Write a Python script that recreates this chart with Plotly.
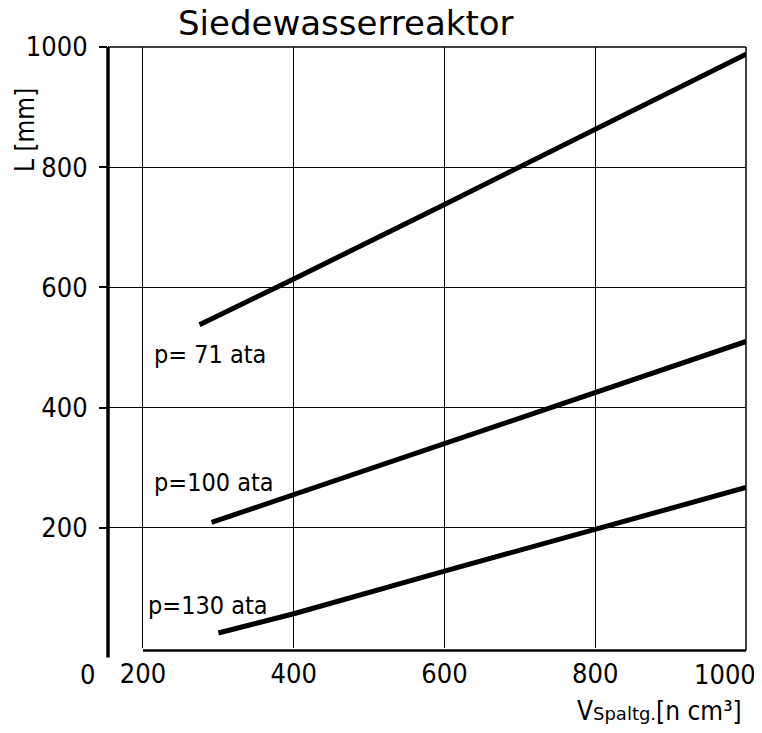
import plotly.graph_objects as go

# ---- data ----
x_p71 = [275, 400, 600, 700, 800, 1000]
y_p71 = [538, 614, 738, 800, 862, 988]

x_p100 = [291, 400, 600, 800, 1000]
y_p100 = [209, 255, 340, 425, 510]

x_p130 = [300, 400, 600, 800, 1000]
y_p130 = [25, 57, 128, 198, 267]

series_names = ["p= 71 ata", "p=100 ata", "p=130 ata"]
x_ticks = [200, 400, 600, 800, 1000]
y_ticks = [200, 400, 600, 800, 1000]

X_MIN, X_MAX = 153.6, 1000
Y_MIN, Y_MAX = 0, 1000

NARROW = "DejaVu Sans Condensed, Liberation Sans Narrow, sans-serif"
ROUND = "DejaVu Sans, Verdana, sans-serif"
TICK_SIZE = 27

fig = go.Figure()
for xs, ys, name in [(x_p71, y_p71, series_names[0]),
                     (x_p100, y_p100, series_names[1]),
                     (x_p130, y_p130, series_names[2])]:
    fig.add_trace(go.Scatter(x=xs, y=ys, mode="lines", name=name,
                             line=dict(color="black", width=5),
                             showlegend=False, hoverinfo="skip"))

# curve labels
label_pos = [(289, 489), (294, 275), (286, 70)]
for (lx, ly), name in zip(label_pos, series_names):
    fig.add_annotation(x=lx, y=ly, xref="x", yref="y", text=name,
                       showarrow=False, xanchor="center", yanchor="middle",
                       font=dict(family=NARROW, size=25, color="black"))

# frame pieces
shapes = [
    # thick y axis line extending a bit below the x axis
    dict(type="line", xref="paper", yref="paper", x0=0, x1=0, y0=-0.016, y1=1,
         line=dict(color="black", width=3.5)),
    # top border
    dict(type="line", xref="paper", yref="paper", x0=0, x1=1, y0=1, y1=1,
         line=dict(color="black", width=1.5)),
    # right border
    dict(type="line", xref="paper", yref="paper", x0=1, x1=1, y0=-0.004, y1=1,
         line=dict(color="black", width=1.5)),
    # bottom axis line starting at x = 200
    dict(type="line", xref="x", yref="paper", x0=x_ticks[0], x1=X_MAX, y0=-0.004, y1=-0.004,
         line=dict(color="black", width=2.5)),
]

fig.update_layout(
    width=754, height=717,
    margin=dict(l=100, r=16, t=39, b=77),
    paper_bgcolor="white", plot_bgcolor="white",
    shapes=shapes,
    xaxis=dict(range=[X_MIN, X_MAX], tickvals=x_ticks[:-1],
               ticktext=[str(v) for v in x_ticks[:-1]],
               showgrid=True, gridcolor="black", gridwidth=1, zeroline=False,
               showline=False, ticks="", ticklabelstandoff=7,
               tickfont=dict(family=NARROW, size=TICK_SIZE, color="black")),
    yaxis=dict(range=[Y_MIN, Y_MAX], tickvals=y_ticks, ticktext=[str(v) for v in y_ticks],
               showgrid=True, gridcolor="black", gridwidth=1, zeroline=False,
               showline=False, ticks="outside", ticklen=8, tickwidth=1.5, tickcolor="black",
               ticklabelstandoff=6,
               tickfont=dict(family=NARROW, size=TICK_SIZE, color="black")),
)

# last x tick label, right-aligned near the figure edge as in the reference
fig.add_annotation(xref="x", yref="paper", x=x_ticks[-1], xshift=12, y=0, yshift=-26,
                   text=str(x_ticks[-1]), showarrow=False, xanchor="right", yanchor="middle",
                   font=dict(family=NARROW, size=TICK_SIZE, color="black"))

# title
fig.add_annotation(xref="paper", yref="paper", x=(346 - 108) / 638, y=1, yshift=24,
                   text="Siedewasserreaktor", showarrow=False,
                   xanchor="center", yanchor="middle",
                   font=dict(family=ROUND, size=34, color="black"))
# y axis title
fig.add_annotation(xref="paper", yref="paper", x=-0.13, y=0.862, textangle=-90,
                   text="L [mm]", showarrow=False, xanchor="center", yanchor="middle",
                   font=dict(family=NARROW, size=26, color="black"))
# x axis title
fig.add_annotation(xref="paper", yref="paper", x=1, xshift=-2, y=0, yshift=-63,
                   text="V<span style='font-family:DejaVu Sans;font-size:18px'>Spaltg.</span>[n cm³]",
                   showarrow=False, xanchor="right", yanchor="middle",
                   font=dict(family=NARROW, size=26, color="black"))
# the lone "0" at the origin of the broken x axis
fig.add_annotation(xref="paper", yref="paper", x=0, xshift=-21, y=0, yshift=-26,
                   text="0", showarrow=False, xanchor="center", yanchor="middle",
                   font=dict(family=NARROW, size=TICK_SIZE, color="black"))

fig.write_html("out.html")
